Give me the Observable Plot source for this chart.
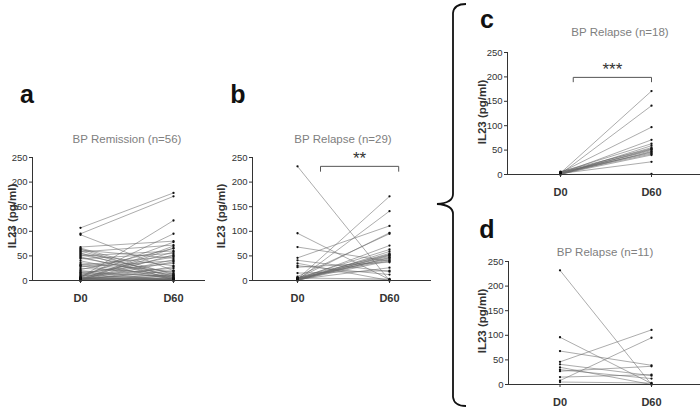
<!DOCTYPE html>
<html><head><meta charset="utf-8">
<script src="https://cdn.jsdelivr.net/npm/d3@7"></script>
<script src="https://cdn.jsdelivr.net/npm/@observablehq/plot@0.6"></script>
<style>
body{margin:0;background:#fff;font-family:"Liberation Sans",Arial,sans-serif}
#root{position:relative;width:700px;height:410px;overflow:hidden;background:#fff}
.abs{position:absolute;white-space:nowrap;line-height:1}
.title{color:#808080;font-size:11.5px;transform:translate(-50%,-50%)}
.letter{font-weight:bold;font-size:25px;color:#111;transform:translate(-50%,-50%)}
.ylab{font-weight:bold;font-size:11.5px;color:#333;transform:translate(-50%,-50%) rotate(-90deg)}
svg.plotsvg{position:absolute}
</style></head><body><div id="root"></div>
<script>
// ---- data ----
const categories = ["D0", "D60"];
const yTicks = [0, 50, 100, 150, 200, 250];

// a: BP Remission (n=56)
const remissionD0  = [107,95,93,68,66,64,62,60,58,56,54,52,50,48,46,44,40,36,33,31,30,28,25,22,20,18,16,15,13,12,10,9,8,7,6,6,5,5,4,4,3,3,3,2,2,2,1,1,1,1,0,0,0,0,0,0];
const remissionD60 = [178,171,20,80,12,5,45,8,72,2,30,15,60,4,10,55,2,18,7,50,3,40,14,65,6,1,35,9,0,48,4,25,78,2,122,0,95,3,58,1,42,12,0,70,5,20,38,2,0,52,10,66,3,1,28,0];

// c: BP Relapse (n=18)
const relapseCD0  = [3,1,4,2,5,0,3,6,2,1,4,0,2,5,3,1,2,0];
const relapseCD60 = [171,141,97,71,63,59,55,53,52,51,49,47,46,44,42,40,26,1];

// d: BP Relapse (n=11)
const relapseDD0  = [232,96,68,46,8,41,35,30,27,15,5];
const relapseDD60 = [0,2,39,111,95,18,0,12,37,20,3];

// b: BP Relapse (n=29) = c + d
const relapseBD0  = relapseCD0.concat(relapseDD0);
const relapseBD60 = relapseCD60.concat(relapseDD60);

// significance annotations (x in category index units, y in pg/ml)
const sigB = {x1: 0.25, x2: 1.1, y: 232, drop: 10, label: "**"};
const sigC = {x1: 0.14, x2: 1.0, y: 199, drop: 9, label: "***"};

const root = document.getElementById("root");

function panel(cfg) {
  const ml = cfg.axisX - cfg.left, mr = cfg.left + cfg.width - cfg.rightX;
  const mt = cfg.y250 - cfg.top, mb = cfg.top + cfg.height - cfg.y0;
  const u = cfg.d60X - cfg.d0X;
  const xmin = (cfg.axisX - cfg.d0X) / u, xmax = 1 + (cfg.rightX - cfg.d60X) / u;
  const long = cfg.d0.flatMap((v, i) => [{id: i, x: 0, y: v}, {id: i, x: 1, y: cfg.d60[i]}]);
  const marks = [
    Plot.line(long, {x: "x", y: "y", z: "id", stroke: "#666", strokeWidth: 0.55}),
    Plot.dot(long, {x: "x", y: "y", r: 1.15, fill: "#111", stroke: "none"}),
    Plot.ruleY([0], {stroke: "#333", strokeWidth: 1}),
    Plot.ruleX([xmin], {y1: 0, y2: 250, stroke: "#333", strokeWidth: 1}),
    Plot.axisY({ticks: yTicks, tickSize: 3, tickPadding: 2, fontSize: 9.5, label: null, fill: "#333", stroke: "#333"}),
    Plot.axisX({ticks: [0, 1], tickFormat: i => categories[i], tickSize: 3, tickPadding: 11, fontSize: 11, fontWeight: "bold", label: null, fill: "#333", stroke: "#333"})
  ];
  if (cfg.sig) {
    const s = cfg.sig;
    marks.push(Plot.line([{x: s.x1, y: s.y - s.drop}, {x: s.x1, y: s.y}, {x: s.x2, y: s.y}, {x: s.x2, y: s.y - s.drop}], {x: "x", y: "y", stroke: "#555", strokeWidth: 1}));
    marks.push(Plot.text([s], {x: d => (d.x1 + d.x2) / 2, y: "y", text: "label", dy: -8, fontSize: 17, fill: "#333"}));
  }
  const svg = Plot.plot({
    width: cfg.width, height: cfg.height,
    marginLeft: ml, marginRight: mr, marginTop: mt, marginBottom: mb,
    x: {domain: [xmin, xmax]},
    y: {domain: [0, 250]},
    style: {background: "transparent", fontFamily: "Liberation Sans, Arial, sans-serif", overflow: "visible"},
    marks
  });
  svg.classList.add("plotsvg");
  svg.style.left = cfg.left + "px";
  svg.style.top = cfg.top + "px";
  root.appendChild(svg);
}

function label(cls, text, x, y) {
  const d = document.createElement("div");
  d.className = "abs " + cls;
  d.textContent = text;
  d.style.left = x + "px";
  d.style.top = y + "px";
  root.appendChild(d);
}

panel({left: 0, top: 130, width: 215, height: 185, axisX: 32, d0X: 80, d60X: 173, rightX: 205, y0: 280, y250: 157, d0: remissionD0, d60: remissionD60});
panel({left: 215, top: 130, width: 222, height: 185, axisX: 252, d0X: 297, d60X: 389, rightX: 431, y0: 280, y250: 157, d0: relapseBD0, d60: relapseBD60, sig: sigB});
panel({left: 470, top: 40, width: 230, height: 160, axisX: 507, d0X: 560, d60X: 651, rightX: 700, y0: 174, y250: 52, d0: relapseCD0, d60: relapseCD60, sig: sigC});
panel({left: 470, top: 250, width: 230, height: 160, axisX: 508, d0X: 559.5, d60X: 651, rightX: 700, y0: 384, y250: 261, d0: relapseDD0, d60: relapseDD60});

label("title", "BP Remission (n=56)", 127, 140);
label("title", "BP Relapse (n=29)", 343, 140);
label("title", "BP Relapse (n=18)", 620, 33);
label("title", "BP Relapse (n=11)", 605, 253);
label("letter", "a", 27, 94);
label("letter", "b", 238, 94);
label("letter", "c", 487, 19);
label("letter", "d", 487, 229);
label("ylab", "IL23 (pg/ml)", 13, 216);
label("ylab", "IL23 (pg/ml)", 222, 216);
label("ylab", "IL23 (pg/ml)", 483, 112);
label("ylab", "IL23 (pg/ml)", 483, 321);

// curly brace grouping c and d
const ns = "http://www.w3.org/2000/svg";
const br = document.createElementNS(ns, "svg");
br.setAttribute("width", 40); br.setAttribute("height", 410);
br.style.position = "absolute"; br.style.left = "430px"; br.style.top = "0px";
const p = document.createElementNS(ns, "path");
p.setAttribute("d", "M36,4 Q24,4 23,13 L23,194 Q23,203 7,204 Q23,205 23,214 L23,397 Q24,406 36,406");
p.setAttribute("fill", "none"); p.setAttribute("stroke", "#111"); p.setAttribute("stroke-width", "1.8");
br.appendChild(p);
root.appendChild(br);
</script>
</body></html>
